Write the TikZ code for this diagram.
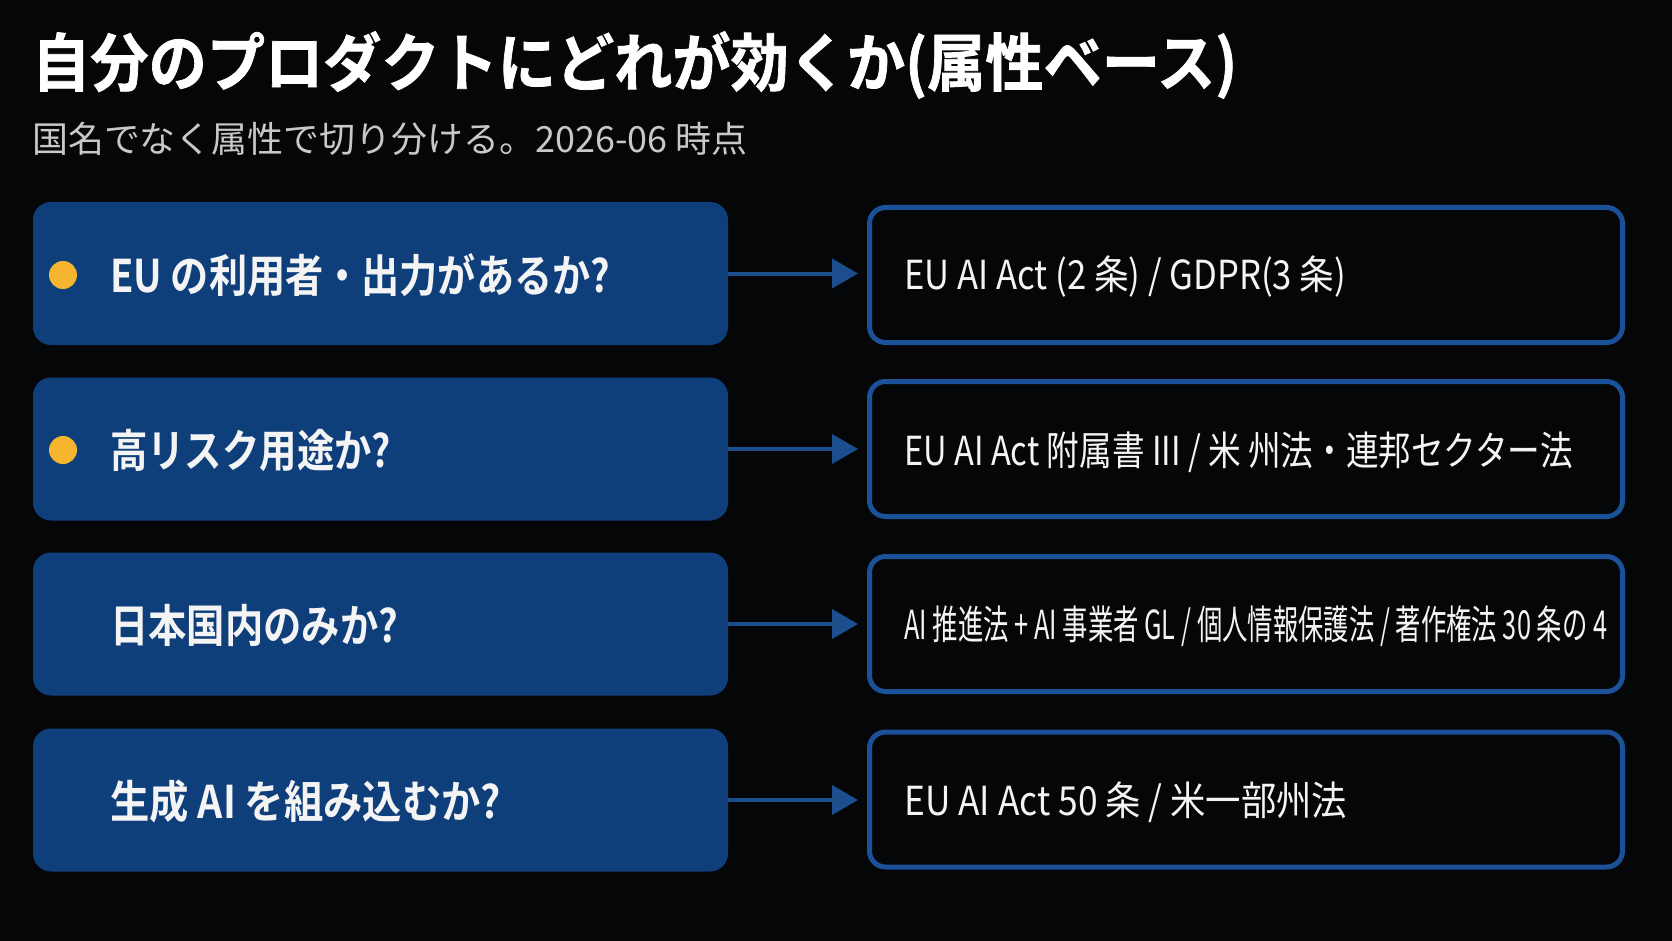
\documentclass[tikz,border=0pt]{standalone}
\usepackage{fontspec}
\usepackage{graphicx}
\setmainfont{Noto Sans CJK JP}[BoldFont={Noto Sans CJK JP Bold}]
\newfontfamily\heavyfont{Noto Sans CJK JP Bold}[FakeBold=1.2]
\usetikzlibrary{arrows.meta}
\definecolor{bg}{HTML}{050608}
\definecolor{qfill}{HTML}{0F3F7A}
\definecolor{aline}{HTML}{1B5198}
\definecolor{arrowc}{HTML}{1C4E8E}
\definecolor{dotc}{HTML}{F5B52E}
\definecolor{subc}{HTML}{C8C8C8}
\definecolor{txt}{HTML}{F4F4F4}
\newcommand{\squeeze}[2]{\resizebox{#1}{\height}{#2}}
\begin{document}
\begin{tikzpicture}[x=1pt,y=-1pt,
  qbox/.style={fill=qfill, rounded corners=18pt, minimum width=695pt, minimum height=143pt, inner sep=0pt},
  abox/.style={draw=aline, line width=5pt, rounded corners=16pt, minimum width=753pt, minimum height=135pt, inner sep=0pt},
  qtext/.style={anchor=west, inner sep=0pt, text=txt, font=\bfseries\fontsize{45}{50}\selectfont},
  atext/.style={anchor=west, inner sep=0pt, text=txt, font=\fontsize{40}{46}\selectfont},
  dotn/.style={circle, fill=dotc, minimum size=28pt, inner sep=0pt},
  arr/.style={draw=arrowc, line width=4pt, -{Triangle[length=26pt,width=29pt]}, shorten >=9pt}
]
\fill[bg] (0,0) rectangle (1672,941);
\useasboundingbox (0,0) rectangle (1672,941);

\node[anchor=west, inner sep=0pt, text=white, font=\heavyfont\fontsize{63}{70}\selectfont] (title) at (32,65) {\squeeze{1205pt}{自分のプロダクトにどれが効くか(属性ベース)}};
\node[anchor=west, inner sep=0pt, text=subc, font=\fontsize{36}{40}\selectfont] (sub) at (32,139) {\squeeze{715pt}{国名でなく属性で切り分ける。2026-06 時点}};

% question boxes
\node[qbox] (q1) at (380.5,273.5) {};
\node[qbox] (q2) at (380.5,449) {};
\node[qbox] (q3) at (380.5,624) {};
\node[qbox] (q4) at (380.5,800) {};

\node[dotn] (d1) at (63,275) {};
\node[dotn] (d2) at (63,450) {};

\node[qtext] (q1t) at (110,275) {\squeeze{500pt}{EU の利用者・出力があるか?}};
\node[qtext] (q2t) at (110,450) {\squeeze{281pt}{高リスク用途か?}};
\node[qtext] (q3t) at (110,625) {\squeeze{288pt}{日本国内のみか?}};
\node[qtext] (q4t) at (110,801) {\squeeze{391pt}{生成 AI を組み込むか?}};

% answer boxes
\node[abox] (a1) at (1246,275) {};
\node[abox] (a2) at (1246,449) {};
\node[abox] (a3) at (1246,624) {};
\node[abox] (a4) at (1246,799.5) {};

\node[atext] (a1t) at (904,277) {\squeeze{442pt}{EU AI Act (2 条) / GDPR(3 条)}};
\node[atext] (a2t) at (904,452) {\squeeze{669pt}{EU AI Act 附属書 III / 米 州法・連邦セクター法}};
\node[atext] (a3t) at (904,626) {\squeeze{703pt}{AI 推進法 + AI 事業者 GL / 個人情報保護法 / 著作権法 30 条の 4}};
\node[atext] (a4t) at (904,802) {\squeeze{443pt}{EU AI Act 50 条 / 米一部州法}};

% arrows
\draw[arr] (q1.east) -- (q1.east -| a1.west);
\draw[arr] (q2.east) -- (q2.east -| a2.west);
\draw[arr] (q3.east) -- (q3.east -| a3.west);
\draw[arr] (q4.east) -- (q4.east -| a4.west);
\end{tikzpicture}
\end{document}
